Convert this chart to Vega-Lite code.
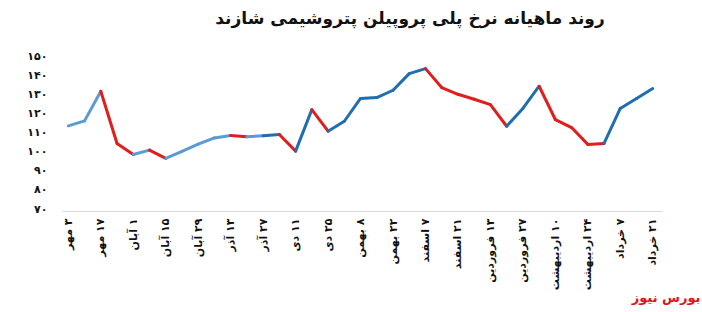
{
  "$schema": "https://vega.github.io/schema/vega-lite/v6.json",
  "width": 600,
  "height": 155,
  "autosize": {"type": "none"},
  "padding": {"left": 62, "top": 56, "right": 40, "bottom": 101},
  "background": "white",
  "config": {"view": {"stroke": null}, "font": "DejaVu Sans"},
  "title": {
    "text": "روند ماهیانه نرخ پلی پروپیلن پتروشیمی شازند",
    "fontSize": 17,
    "fontWeight": "bold",
    "color": "#111111",
    "font": "DejaVu Sans",
    "anchor": "middle",
    "dx": 48,
    "offset": 22
  },
  "data": {
    "values": [
      {"i": 0, "price": 113.5, "trend": "rise-early"},
      {"i": 1, "price": 116.1, "trend": "rise-early"},
      {"i": 2, "price": 131.6, "trend": "fall"},
      {"i": 3, "price": 104.3, "trend": "fall"},
      {"i": 4, "price": 98.5, "trend": "rise-early"},
      {"i": 5, "price": 100.8, "trend": "fall"},
      {"i": 6, "price": 96.5, "trend": "rise-early"},
      {"i": 7, "price": 100.2, "trend": "rise-early"},
      {"i": 8, "price": 103.9, "trend": "rise-early"},
      {"i": 9, "price": 107.2, "trend": "rise-early"},
      {"i": 10, "price": 108.4, "trend": "fall"},
      {"i": 11, "price": 107.8, "trend": "rise-early"},
      {"i": 12, "price": 108.3, "trend": "rise"},
      {"i": 13, "price": 109.0, "trend": "fall"},
      {"i": 14, "price": 100.3, "trend": "rise"},
      {"i": 15, "price": 122.0, "trend": "fall"},
      {"i": 16, "price": 110.7, "trend": "rise"},
      {"i": 17, "price": 115.9, "trend": "rise"},
      {"i": 18, "price": 127.8, "trend": "rise"},
      {"i": 19, "price": 128.3, "trend": "rise"},
      {"i": 20, "price": 132.1, "trend": "rise"},
      {"i": 21, "price": 140.8, "trend": "rise"},
      {"i": 22, "price": 143.4, "trend": "fall"},
      {"i": 23, "price": 133.5, "trend": "fall"},
      {"i": 24, "price": 130.0, "trend": "fall"},
      {"i": 25, "price": 127.4, "trend": "fall"},
      {"i": 26, "price": 124.6, "trend": "fall"},
      {"i": 27, "price": 113.3, "trend": "rise"},
      {"i": 28, "price": 122.6, "trend": "rise"},
      {"i": 29, "price": 134.2, "trend": "fall"},
      {"i": 30, "price": 116.8, "trend": "fall"},
      {"i": 31, "price": 112.6, "trend": "fall"},
      {"i": 32, "price": 103.8, "trend": "fall"},
      {"i": 33, "price": 104.3, "trend": "rise"},
      {"i": 34, "price": 122.6, "trend": "rise"},
      {"i": 35, "price": 127.8, "trend": "rise"},
      {"i": 36, "price": 133.0, "trend": "rise"}
    ]
  },
  "transform": [
    {"window": [{"op": "lead", "field": "i", "as": "i2"}, {"op": "lead", "field": "price", "as": "price2"}], "sort": [{"field": "i"}]},
    {"filter": "datum.i2 != null"}
  ],
  "mark": {"type": "rule", "strokeWidth": 3, "strokeCap": "round"},
  "encoding": {
    "x": {
      "field": "i",
      "type": "quantitative",
      "scale": {"domain": [-0.39, 36.57], "nice": false, "zero": false},
      "axis": {
        "values": [0, 2, 4, 6, 8, 10, 12, 14, 16, 18, 20, 22, 24, 26, 28, 30, 32, 34, 36],
        "labelExpr": "['\u202B۳ مهر\u202C','\u202B۱۷ مهر\u202C','\u202B۱ آبان\u202C','\u202B۱۵ آبان\u202C','\u202B۲۹ آبان\u202C','\u202B۱۳ آذر\u202C','\u202B۲۷ آذر\u202C','\u202B۱۱ دی\u202C','\u202B۲۵ دی\u202C','\u202B۸ بهمن\u202C','\u202B۲۲ بهمن\u202C','\u202B۷ اسفند\u202C','\u202B۲۱ اسفند\u202C','\u202B۱۳ فروردین\u202C','\u202B۲۷ فروردین\u202C','\u202B۱۰ اردیبهشت\u202C','\u202B۲۴ اردیبهشت\u202C','\u202B۷ خرداد\u202C','\u202B۲۱ خرداد\u202C'][datum.value / 2]",
        "labelAngle": -90,
        "labelFontSize": 11,
        "labelFontWeight": "bold",
        "labelColor": "#111111",
        "labelPadding": 7,
        "labelOverlap": false,
        "labelFlush": false,
        "ticks": false,
        "grid": false,
        "domainColor": "#d9d9d9",
        "domainWidth": 1,
        "title": "بورس نیوز",
        "titleColor": "#e3131b",
        "titleFontSize": 13,
        "titleFontWeight": "bold",
        "titleFont": "DejaVu Sans",
        "titleAngle": 0,
        "titleAlign": "right",
        "titleBaseline": "middle",
        "titleX": 638,
        "titleY": 86
      }
    },
    "x2": {"field": "i2"},
    "y": {
      "field": "price",
      "type": "quantitative",
      "scale": {"domain": [69, 150], "nice": false, "zero": false},
      "axis": {
        "values": [70, 80, 90, 100, 110, 120, 130, 140, 150],
        "labelExpr": "['۷۰','۸۰','۹۰','۱۰۰','۱۱۰','۱۲۰','۱۳۰','۱۴۰','۱۵۰'][(datum.value - 70) / 10]",
        "labelFontSize": 11,
        "labelFontWeight": "bold",
        "labelColor": "#111111",
        "labelPadding": 15,
        "domain": false,
        "ticks": false,
        "grid": false,
        "title": null
      }
    },
    "y2": {"field": "price2"},
    "color": {
      "field": "trend",
      "type": "nominal",
      "scale": {"domain": ["rise", "rise-early", "fall"], "range": ["#1f6eb3", "#5b9bd5", "#e01e1e"]},
      "legend": null
    }
  }
}
